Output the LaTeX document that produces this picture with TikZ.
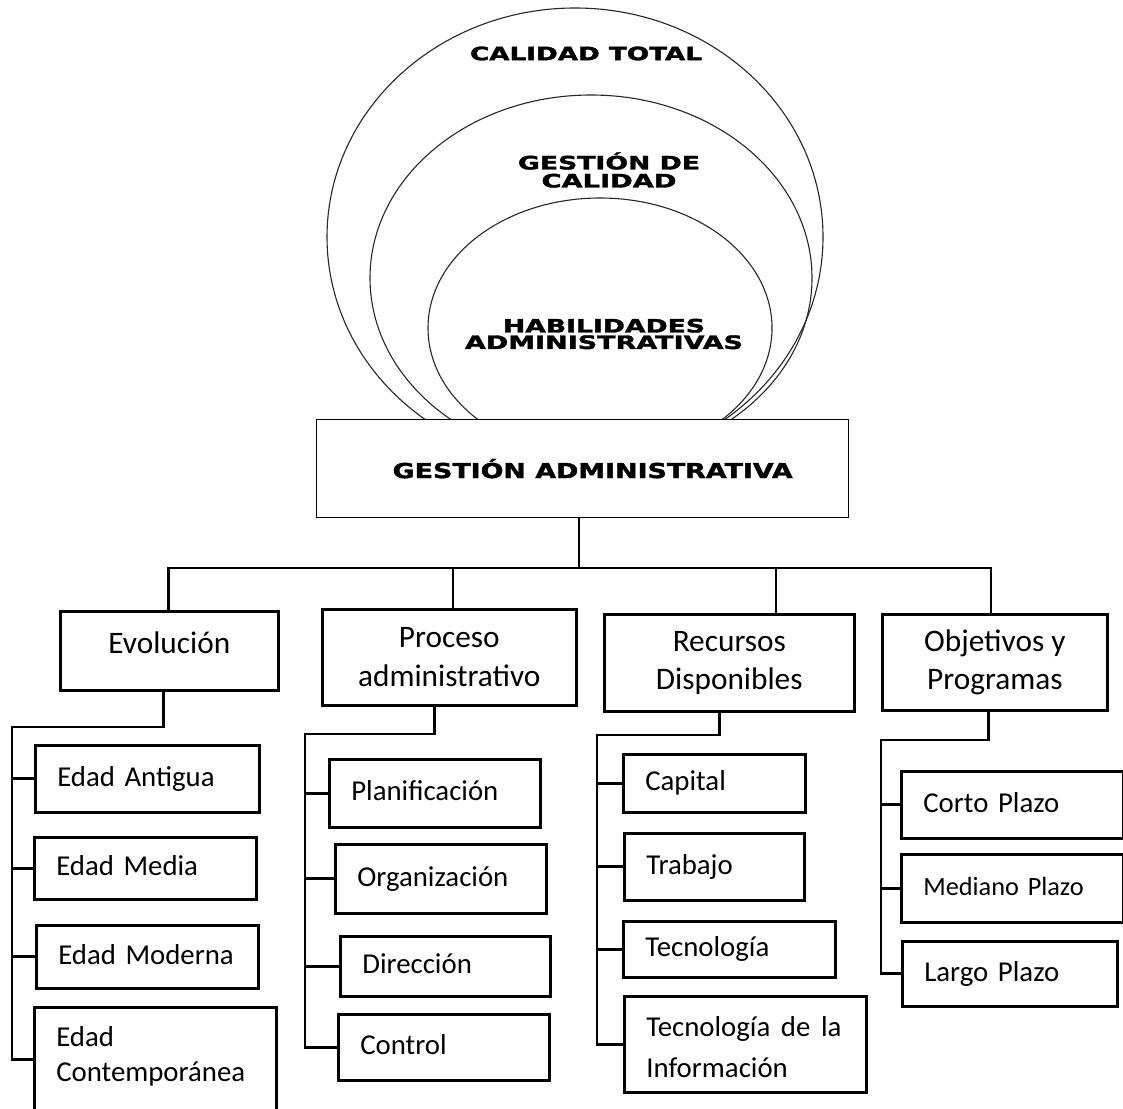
\documentclass[tikz,border=0pt]{standalone}
\usepackage{fontspec}
\usepackage{graphicx}
\setmainfont{Carlito}
\newfontfamily\headfont{DejaVu Sans}[BoldFeatures={FakeBold=1.6}]
\usetikzlibrary{calc}

% stretch a caps heading to a given width, keeping its height
\newcommand\widecaps[2]{\resizebox{#1}{\height}{#2}}

\tikzset{
  ring/.style={line width=1.1pt, draw=black!85},
  headtext/.style={inner sep=0pt, align=center,
    font=\headfont\bfseries\fontsize{18.5}{18}\selectfont},
  mainbox/.style={draw, line width=1.3pt, anchor=north west, inner sep=0pt,
    minimum width=532pt, minimum height=98pt,
    font=\headfont\bfseries\fontsize{20.6}{24}\selectfont},
  catbox/.style={draw, line width=2.6pt, anchor=north west, inner sep=0pt,
    align=center, font=\fontsize{31.3}{38.5}\selectfont},
  leaf/.style={draw, line width=2.6pt, anchor=north west, inner xsep=22pt,
    inner ysep=0pt, align=left, font=\fontsize{28.8}{35}\selectfont,
    text height=21.6pt, text depth=7.2pt},
  conn/.style={line width=2.7pt, line join=miter},
}

\begin{document}
\begin{tikzpicture}[x=1pt,y=-1pt]
\useasboundingbox (0,0) rectangle (1123,1108);

% nested quality rings, cut off by the top of the main box
\begin{scope}
  \clip (0,0) rectangle (1123,419);
  \draw[ring] (575,237) ellipse [x radius=248, y radius=229];
  \draw[ring] (591,278) ellipse [x radius=221, y radius=183];
  \draw[ring] (600,328) ellipse [x radius=172, y radius=130];
\end{scope}

\node[headtext] (tq) at (586,53.5) {\widecaps{232pt}{CALIDAD TOTAL}};
\node[headtext] (gq) at (609,170) {\widecaps{182pt}{GESTIÓN DE}\\\widecaps{135pt}{CALIDAD}};
\node[headtext, font=\headfont\bfseries\fontsize{18.5}{16.5}\selectfont] (ha)
  at (604,334) {\widecaps{202pt}{HABILIDADES}\\\widecaps{278pt}{ADMINISTRATIVAS}};

% main box
\node[mainbox] (ga) at (316,419) {\hspace*{20pt}\widecaps{400pt}{GESTIÓN ADMINISTRATIVA}};

% second level
\node[catbox, minimum width=218pt, minimum height=79pt, text height=22pt, text depth=17pt]
  (evo) at (59,610) {Evolución};
\node[catbox, minimum width=254pt, minimum height=96pt] (pro) at (321,608) {Proceso\\administrativo};
\node[catbox, minimum width=250pt, minimum height=97pt] (rec) at (603,613) {Recursos\\Disponibles};
\node[catbox, minimum width=225pt, minimum height=96pt] (obj) at (881,613) {Objetivos y\\Programas};

% leaves: Evolución
\node[leaf, text width=180pt, minimum height=67pt] (ant) at (34,744) {Edad Antigua};
\node[leaf, text width=178pt, minimum height=62pt] (med) at (33,836) {Edad Media};
\node[leaf, text width=178pt, minimum height=63pt] (mod) at (35,924) {Edad Moderna};
\node[leaf, text width=198pt, minimum height=104pt, text height=21pt, text depth=47pt]
  (con) at (33,1006) {Edad\\Contemporánea};

% leaves: Proceso administrativo
\node[leaf, text width=167pt, minimum height=68pt] (pla) at (328,758) {Planificación};
\node[leaf, text width=167pt, minimum height=69pt] (org) at (334,843) {Organización};
\node[leaf, text width=166pt, minimum height=60pt] (dir) at (339,935) {Dirección};
\node[leaf, text width=167pt, minimum height=66pt] (ctl) at (337,1013) {Control};

% leaves: Recursos Disponibles
\node[leaf, text width=138pt, minimum height=58pt] (cap) at (622,753) {Capital};
\node[leaf, text width=136pt, minimum height=67pt] (tra) at (623,832) {Trabajo};
\node[leaf, text width=168pt, minimum height=56pt] (tec) at (622,920) {Tecnología};
\node[leaf, text width=198pt, minimum height=96pt, font=\fontsize{28.8}{41}\selectfont,
  text height=21.4pt, text depth=37.4pt]
  (tic) at (623,995) {\mbox{Tecnología\hspace{.37em}de\hspace{.37em}la}\\Información};

% leaves: Objetivos y Programas
\node[leaf, text width=178pt, minimum height=67pt] (cor) at (900,770) {Corto Plazo};
\node[leaf, text width=178pt, minimum height=68pt, font=\fontsize{26.3}{32}\selectfont]
  (mdp) at (900,853) {Mediano Plazo};
\node[leaf, text width=171pt, minimum height=65pt] (lar) at (901,940) {Largo Plazo};

% top-level bus
\coordinate (bus) at (579,568);
\coordinate (proT) at ([xshift=132pt]pro.north west);
\coordinate (recT) at ([xshift=173pt]rec.north west);
\coordinate (objT) at ([xshift=110pt]obj.north west);
\draw[conn] (ga.south -| bus) -- (bus);
\draw[conn] ([xshift=-1pt]evo.north) |- (bus) -| (objT);
\draw[conn] (proT) -- (proT |- bus);
\draw[conn] (recT) -- (recT |- bus);

% branch: Evolución
\coordinate (evoB) at ([xshift=-6pt]evo.south);
\coordinate (evoL) at (12,727);
\draw[conn] (evoB) |- (evoL) -- (evoL |- con.west) -- (con.west);
\foreach \n in {ant,med,mod} \draw[conn] (\n.west) -- (\n.west -| evoL);

% branch: Proceso administrativo
\coordinate (proB) at ([xshift=-15pt]pro.south);
\coordinate (proL) at (305,734);
\draw[conn] (proB) |- (proL) -- (proL |- ctl.west) -- (ctl.west);
\foreach \n in {pla,org,dir} \draw[conn] (\n.west) -- (\n.west -| proL);

% branch: Recursos Disponibles
\coordinate (recB) at ([xshift=-10pt]rec.south);
\coordinate (recL) at (597,735);
\draw[conn] (recB) |- (recL) -- (recL |- tic.west) -- (tic.west);
\foreach \n in {cap,tra,tec} \draw[conn] (\n.west) -- (\n.west -| recL);

% branch: Objetivos y Programas
\coordinate (objB) at ([xshift=-6.5pt]obj.south);
\coordinate (objL) at (881,740);
\draw[conn] (objB) |- (objL) -- (objL |- lar.west) -- (lar.west);
\foreach \n in {cor,mdp} \draw[conn] (\n.west) -- (\n.west -| objL);
\end{tikzpicture}
\end{document}
